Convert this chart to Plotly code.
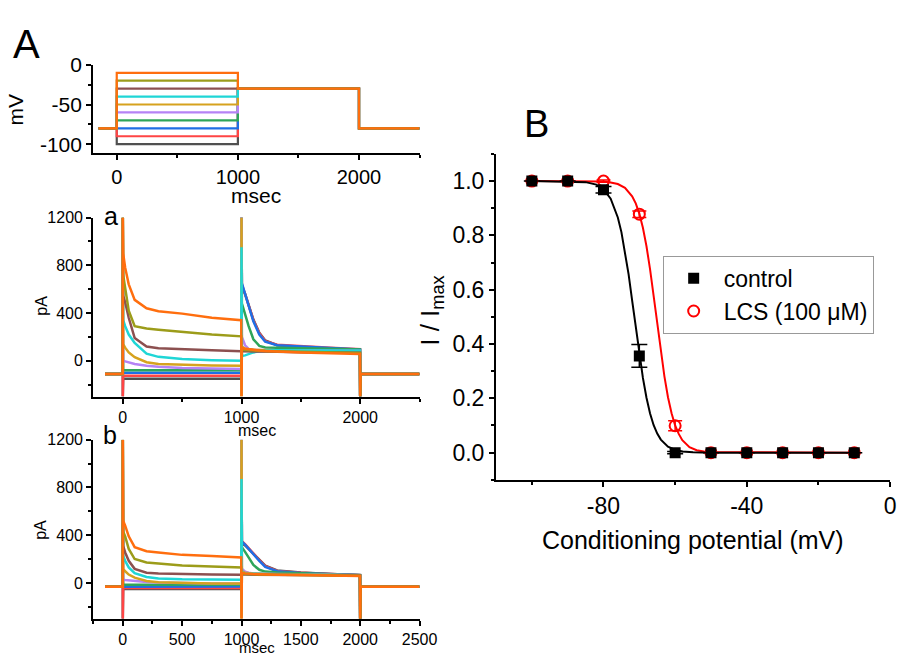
import plotly.graph_objects as go

W, H = 913, 655
FONT = "Arial, Liberation Sans, sans-serif"

# --- panel A: voltage protocol ---
step_levels = [-100, -90, -80, -70, -60, -50, -40, -30, -20, -10]
hold_mv = -80
test_mv = -30
proto_t = [-150, 0, 1000, 2000, 2500]

colors = ['#505050', '#ff4545', '#1f6fe5', '#2ea55a', '#b583f5',
          '#d6a21e', '#1fd6d6', '#8c5050', '#9c9c1a', '#ff6e0e']

# --- panels a / b: current traces (pA) ---
t_step = [3, 20, 50, 100, 200, 300, 500, 750, 998]
t_test = [1003, 1030, 1060, 1100, 1150, 1200, 1300, 1500, 1750, 1998]

base_a = -110
spike0_a = [-300, -300, -110, 300, 700, 1200, 1200, 1200, 1200, 1200]
spike1_a = [1200, 1200, 1200, 1200, 1200, 1200, 950, 80, -300, -300]
step_a = [
    [-150, -150, -150, -150, -150, -150, -150, -150, -150],
    [-125, -125, -125, -125, -125, -125, -125, -125, -125],
    [-100, -100, -100, -100, -100, -100, -100, -100, -100],
    [-80, -80, -80, -80, -80, -80, -80, -80, -80],
    [0, -5, -15, -27, -41, -50, -60, -65, -68],
    [140, 110, 70, 30, -12, -27, -35, -40, -42],
    [340, 290, 220, 150, 60, 33, 14, 5, 0],
    [545, 490, 360, 190, 120, 105, 95, 88, 80],
    [720, 610, 420, 290, 270, 260, 240, 220, 205],
    [900, 780, 640, 510, 440, 415, 395, 360, 340],
]
test_a = [
    [620, 560, 470, 345, 235, 170, 130, 115, 100, 90],
    [640, 560, 470, 340, 230, 165, 135, 122, 110, 98],
    [650, 560, 460, 330, 220, 160, 130, 118, 108, 95],
    [480, 390, 290, 180, 125, 112, 108, 104, 100, 95],
    [200, 130, 100, 90, 88, 88, 88, 86, 85, 85],
    [120, 100, 95, 92, 90, 88, 85, 82, 78, 75],
    [40, 45, 55, 70, 80, 85, 88, 88, 88, 85],
    [80, 80, 80, 80, 80, 78, 76, 72, 70, 68],
    [95, 90, 88, 86, 84, 82, 80, 75, 70, 66],
    [110, 100, 95, 90, 86, 82, 76, 70, 63, 57],
]

base_b = -33
spike0_b = [-300, -300, -33, 200, 500, 1200, 1200, 1200, 1200, 1200]
spike1_b = [1200, 1200, 1200, 1200, 1200, 1200, 870, 70, -300, -300]
step_b = [
    [-50, -50, -50, -50, -50, -50, -50, -50, -50],
    [-42, -42, -42, -42, -42, -42, -42, -42, -42],
    [-30, -30, -30, -30, -30, -30, -30, -30, -30],
    [-15, -15, -15, -15, -15, -15, -15, -15, -15],
    [27, 25, 22, 16, 8, 3, -2, -4, -5],
    [115, 98, 70, 44, 16, 5, 0, -4, -5],
    [225, 185, 130, 82, 50, 37, 30, 28, 27],
    [310, 255, 185, 118, 85, 78, 72, 70, 68],
    [430, 390, 285, 200, 172, 162, 145, 137, 130],
    [520, 480, 390, 300, 265, 255, 235, 225, 213],
]
test_b = [
    [330, 315, 285, 245, 195, 145, 105, 88, 75, 66],
    [350, 325, 290, 245, 190, 140, 100, 86, 74, 65],
    [345, 320, 285, 240, 185, 135, 98, 84, 72, 64],
    [300, 260, 210, 150, 110, 95, 88, 82, 72, 64],
    [120, 95, 85, 80, 78, 76, 74, 72, 68, 64],
    [100, 85, 80, 78, 76, 74, 72, 70, 66, 62],
    [90, 80, 78, 76, 75, 74, 72, 70, 67, 63],
    [70, 70, 70, 70, 70, 70, 68, 66, 64, 62],
    [80, 75, 73, 72, 71, 70, 68, 66, 63, 60],
    [85, 80, 76, 74, 72, 70, 68, 66, 62, 58],
]
spike_off = -300

# --- panel B: steady-state inactivation ---
cond_mv = [-100, -90, -80, -70, -60, -50, -40, -30, -20, -10]
ctrl_i = [1.0, 1.0, 0.968, 0.356, 0.0, 0.0, 0.0, 0.0, 0.0, 0.0]
ctrl_err = [0, 0, 0.012, 0.042, 0.004, 0, 0, 0, 0, 0]
lcs_i = [1.0, 1.0, 1.0, 0.878, 0.099, 0.0, 0.0, 0.0, 0.0, 0.0]
lcs_err = [0, 0, 0.004, 0.012, 0.018, 0, 0, 0, 0, 0]

fit_v_ctrl = [-100, -90, -85, -82, -80, -78, -76, -75, -74, -73, -72, -71, -70,
              -69, -68, -67, -66, -65, -64, -62, -60, -58, -55, -50, -10]
fit_i_ctrl = [1.0, 0.999, 0.996, 0.987, 0.970, 0.935, 0.866, 0.812, 0.741, 0.657,
              0.560, 0.460, 0.362, 0.275, 0.202, 0.144, 0.101, 0.070, 0.048,
              0.022, 0.010, 0.004, 0.001, 0.0, 0.0]
fit_v_lcs = [-100, -90, -85, -80, -78, -76, -74, -72, -71, -70, -69, -68, -67,
             -66, -65, -64, -63, -62, -61, -60, -59, -58, -56, -54, -52, -50, -10]
fit_i_lcs = [1.0, 1.0, 1.0, 0.998, 0.995, 0.989, 0.975, 0.944, 0.918, 0.880,
             0.828, 0.760, 0.675, 0.578, 0.474, 0.372, 0.281, 0.204, 0.145,
             0.100, 0.069, 0.046, 0.020, 0.009, 0.004, 0.002, 0.0]

proto_yticks = [0, -50, -100]
cond_xticks = [-80, -40, 0]


def px_x(p):
    return p / W


def px_y(p):
    return 1 - p / H


fig = go.Figure()

# protocol
for v, c in zip(step_levels, colors):
    xs = [proto_t[0], proto_t[1], proto_t[1], proto_t[2], proto_t[2],
          proto_t[3], proto_t[3], proto_t[4]]
    ys = [hold_mv, hold_mv, v, v, test_mv, test_mv, hold_mv, hold_mv]
    fig.add_trace(go.Scatter(x=xs, y=ys, mode='lines', line=dict(color=c, width=2.2),
                             xaxis='x', yaxis='y', showlegend=False))


def add_sweeps(base, sp0, sp1, steps, tests, xa, ya):
    for i in range(len(colors)):
        xs = [-150, 0, 0] + t_step + [1000] + t_test + [2000, 2003, 2500]
        ys = [base, base, sp0[i]] + steps[i] + [sp1[i]] + tests[i] + [spike_off, base, base]
        fig.add_trace(go.Scatter(x=xs, y=ys, mode='lines',
                                 line=dict(color=colors[i], width=2.5),
                                 xaxis=xa, yaxis=ya, showlegend=False))


add_sweeps(base_a, spike0_a, spike1_a, step_a, test_a, 'x2', 'y2')
add_sweeps(base_b, spike0_b, spike1_b, step_b, test_b, 'x3', 'y3')

# panel B
fig.add_trace(go.Scatter(x=fit_v_lcs, y=fit_i_lcs, mode='lines', line=dict(color='#ff0000', width=2),
                         xaxis='x4', yaxis='y4', showlegend=False))
fig.add_trace(go.Scatter(x=fit_v_ctrl, y=fit_i_ctrl, mode='lines', line=dict(color='black', width=2),
                         xaxis='x4', yaxis='y4', showlegend=False))
fig.add_trace(go.Scatter(x=cond_mv, y=lcs_i, mode='markers', name='LCS (100 μM)',
                         marker=dict(symbol='circle-open', size=11, color='#ff0000', line=dict(width=2)),
                         error_y=dict(type='data', array=lcs_err, color='#ff0000', thickness=1.5, width=7),
                         xaxis='x4', yaxis='y4', legendrank=2))
fig.add_trace(go.Scatter(x=cond_mv, y=ctrl_i, mode='markers', name='control',
                         marker=dict(symbol='square', size=11, color='black'),
                         error_y=dict(type='data', array=ctrl_err, color='black', thickness=1.5, width=8),
                         xaxis='x4', yaxis='y4', legendrank=1))


def ax(dom, rng, dtick, minor, size, anchor, tick0=0):
    return dict(domain=dom, range=rng, anchor=anchor, tick0=tick0, dtick=dtick,
                showline=True, linecolor='black', linewidth=2, showgrid=False, zeroline=False,
                ticks='outside', ticklen=5, tickwidth=2, tickcolor='black',
                minor=dict(dtick=minor, ticks='outside', ticklen=3, tickwidth=1.5, tickcolor='black'),
                tickfont=dict(family=FONT, size=size, color='black'))


fig.update_layout(
    width=W, height=H, margin=dict(l=0, r=0, t=0, b=0),
    paper_bgcolor='white', plot_bgcolor='white',
    xaxis=ax([px_x(95), px_x(428)], [-195, 2500], 1000, 500, 20, 'y'),
    yaxis=ax([px_y(144), px_y(54)], [-111, 0], 50, 25, 21, 'x'),
    xaxis2=ax([px_x(95), px_x(428)], [-250, 2500], 1000, 500, 16, 'y2'),
    yaxis2=ax([px_y(393), px_y(210)], [-300, 1200], 400, 200, 16, 'x2'),
    xaxis3=ax([px_x(95), px_x(428)], [-250, 2500], 500, 250, 16, 'y3'),
    yaxis3=ax([px_y(620), px_y(437)], [-300, 1200], 400, 200, 16, 'x3'),
    xaxis4=ax([px_x(506), px_x(908)], [-110, 0], 40, 20, 23, 'y4'),
    yaxis4=ax([px_y(478), px_y(145)], [-0.1, 1.1], 0.2, 0.1, 23, 'x4'),
    legend=dict(x=px_x(676), y=px_y(249), xanchor='left', yanchor='top', itemwidth=50,
                bgcolor='white', bordercolor='#999999', borderwidth=1,
                font=dict(family=FONT, size=23, color='black')),
)
# plain hyphen minus signs, as in the original figure
fig.update_layout(
    yaxis=dict(tickmode='array', tickvals=proto_yticks, ticktext=[str(v) for v in proto_yticks]),
    xaxis4=dict(tickmode='array', tickvals=cond_xticks, ticktext=[str(v) for v in cond_xticks]),
    yaxis4=dict(tickformat='.1f'),
)


def label(text, x, y, size, angle=0):
    fig.add_annotation(text=text, x=px_x(x), y=px_y(y), xref='paper', yref='paper',
                       showarrow=False, textangle=angle, xanchor='center', yanchor='middle',
                       font=dict(family=FONT, size=size, color='black'))


label('A', 27, 33, 40)
label('B', 547, 114, 38)
label('a', 113, 208, 25)
label('b', 112, 432, 25)
label('mV', 16, 100, 21, -90)
label('msec', 261, 188, 21)
label('pA', 42, 300, 16, -90)
label('msec', 262, 428, 16)
label('pA', 42, 529, 16, -90)
label('msec', 262, 649, 15)
label('Conditioning potential (mV)', 707, 540, 25)
label('I / I<sub>max</sub>', 440, 305, 26, -90)

# pin the graph to the top-left corner of the page, no scrollbars
pin = ("document.body.style.margin='0px';document.body.style.overflow='hidden';"
       "var g=document.getElementsByClassName('plotly-graph-div')[0];"
       "g.style.position='fixed';g.style.left='0px';g.style.top='0px';")
fig.write_html("out.html", config={'displayModeBar': False}, post_script=pin)
